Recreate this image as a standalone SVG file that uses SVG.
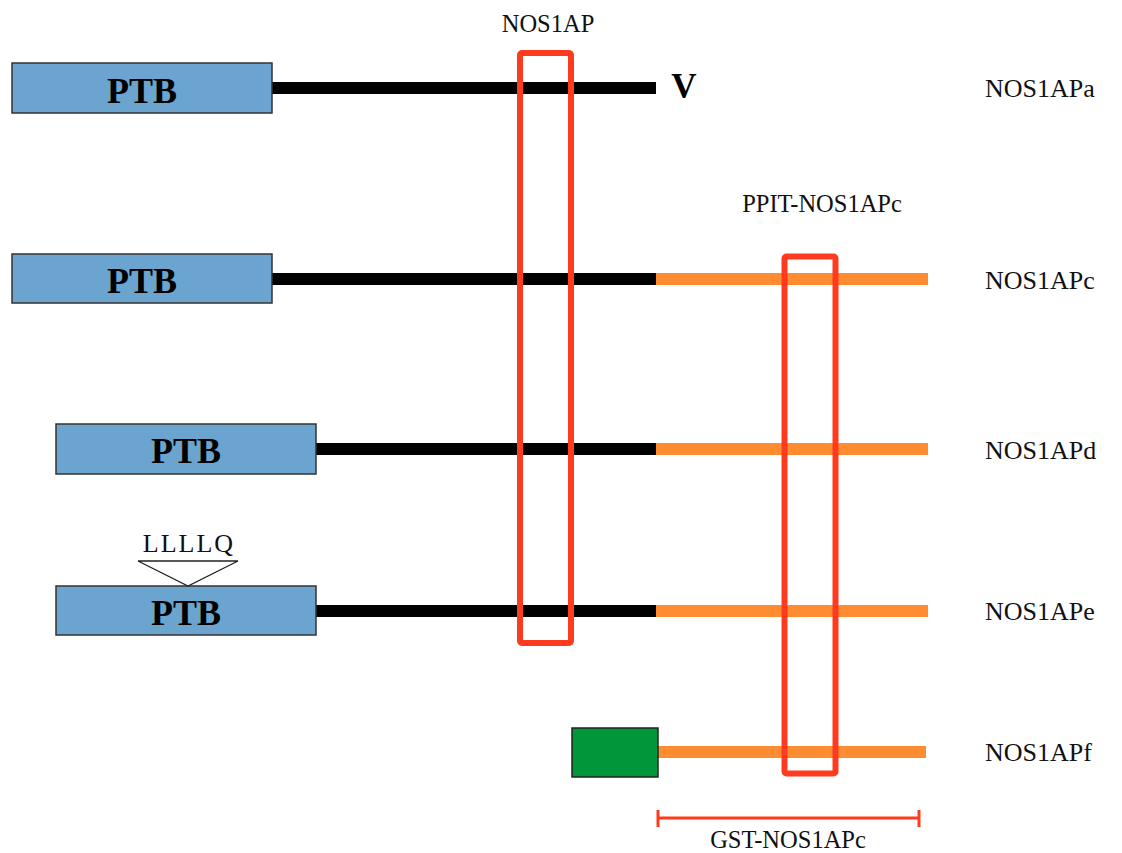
<svg xmlns="http://www.w3.org/2000/svg" width="1122" height="853" viewBox="0 0 1122 853">
<style>
.ptb{fill:#6ba5cf;stroke:#333;stroke-width:1.5}
.ptbt{font-family:"Liberation Serif",serif;font-weight:bold;font-size:36px;fill:#000;text-anchor:middle}
.lab{font-family:"Liberation Serif",serif;font-size:26px;fill:#111}
.small{font-family:"Liberation Serif",serif;font-size:24.5px;fill:#111;text-anchor:middle}
.blk{stroke:#000;stroke-width:12}
.org{stroke:#ff8c30;stroke-width:12}
.red{fill:none;stroke:#ff3b1f;stroke-width:6}
</style>
<rect width="1122" height="853" fill="#fff"/>
<g id="connectors">
<line class="blk" x1="272" y1="88" x2="656" y2="88"/>
<line class="blk" x1="272" y1="279" x2="656" y2="279"/>
<line class="org" x1="656" y1="279" x2="928" y2="279"/>
<line class="blk" x1="316" y1="449" x2="656" y2="449"/>
<line class="org" x1="656" y1="449" x2="928" y2="449"/>
<line class="blk" x1="316" y1="611" x2="656" y2="611"/>
<line class="org" x1="656" y1="611" x2="928" y2="611"/>
<line class="org" x1="658" y1="752" x2="926" y2="752"/>
</g>
<g id="row-a">
<rect class="ptb" x="12" y="63" width="260" height="50"/>
<text class="ptbt" x="142" y="103">PTB</text>
<text x="684" y="98" font-family="Liberation Serif,serif" font-weight="bold" font-size="35" text-anchor="middle">V</text>
<text class="lab" x="985" y="97">NOS1APa</text>
</g>
<g id="row-c">
<rect class="ptb" x="12" y="254" width="260" height="49"/>
<text class="ptbt" x="142" y="293">PTB</text>
<text class="lab" x="985" y="289">NOS1APc</text>
</g>
<g id="row-d">
<rect class="ptb" x="56" y="424" width="260" height="50"/>
<text class="ptbt" x="186" y="463">PTB</text>
<text class="lab" x="985" y="459">NOS1APd</text>
</g>
<g id="row-e">
<rect class="ptb" x="56" y="586" width="260" height="49"/>
<text class="ptbt" x="186" y="625">PTB</text>
<polygon points="138,561 238,561 188,586" fill="#fff" stroke="#222" stroke-width="1.3"/>
<text class="lab" x="189" y="552" text-anchor="middle" font-size="31" letter-spacing="2">LLLLQ</text>
<text class="lab" x="985" y="620">NOS1APe</text>
</g>
<g id="row-f">
<rect x="572" y="728" width="86" height="49" fill="#00963a" stroke="#222" stroke-width="1.5"/>
<text class="lab" x="985" y="761">NOS1APf</text>
</g>
<g id="nos1ap-box">
<rect class="red" x="520" y="53" width="51" height="590" rx="2"/>
<text class="small" x="548" y="32">NOS1AP</text>
</g>
<g id="ppit-box">
<rect class="red" x="784.5" y="256.5" width="51" height="517" rx="2"/>
<text class="small" x="822" y="212">PPIT-NOS1APc</text>
</g>
<g id="gst-bar">
<line x1="658" y1="818" x2="919" y2="818" stroke="#ff3b1f" stroke-width="3"/>
<line x1="658" y1="810" x2="658" y2="827" stroke="#ff3b1f" stroke-width="3"/>
<line x1="919" y1="810" x2="919" y2="827" stroke="#ff3b1f" stroke-width="3"/>
<text class="small" x="788" y="848">GST-NOS1APc</text>
</g>
</svg>
